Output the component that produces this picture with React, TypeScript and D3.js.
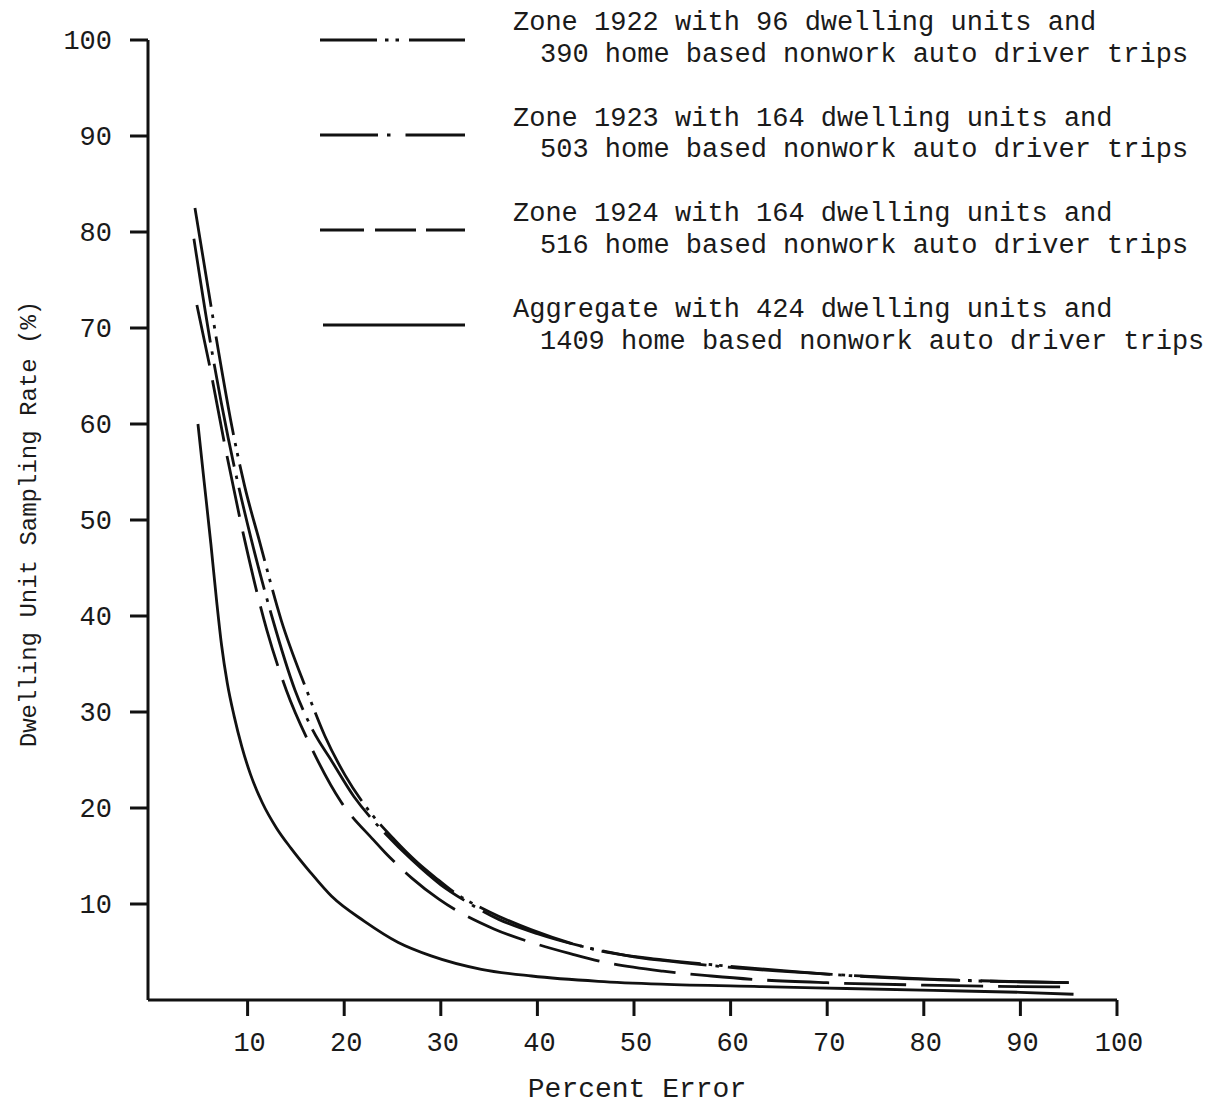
import React from 'react';
import * as d3 from 'd3';

// Sampling rate curves: percent error (x) vs dwelling unit sampling rate % (y)
const zone1922Err = [4.55, 5.9, 7.0, 8.4, 9.7, 11.2, 13.5, 16.1, 18.0, 20.1, 22.5, 25.2, 27.5, 29.5, 31.4, 35.0, 39.4, 43.5, 47.6, 52.8, 60.0, 67.3, 76.5, 85.0, 95.0];
const zone1922Rate = [82.5, 74.2, 67.5, 59.6, 53.5, 47.9, 39.5, 32.3, 27.5, 23.4, 19.8, 16.7, 14.4, 12.7, 11.2, 9.2, 7.3, 5.9, 4.9, 4.2, 3.5, 2.9, 2.3, 2.0, 1.8];

const zone1923Err = [4.44, 6.2, 8.0, 10.4, 12.5, 14.9, 16.8, 18.7, 21.0, 23.0, 24.2, 27.0, 30.0, 32.4, 36.0, 40.0, 45.0, 50.0, 55.0, 60.0, 70.0, 80.0, 90.0, 95.0];
const zone1923Rate = [79.3, 68.2, 58.5, 47.9, 40.0, 32.3, 28.0, 24.9, 21.2, 18.7, 17.4, 14.6, 12.0, 10.4, 8.4, 6.9, 5.5, 4.5, 3.9, 3.4, 2.7, 2.2, 1.9, 1.8];

const zone1924Err = [4.75, 6.0, 7.8, 9.7, 12.0, 14.0, 16.5, 19.7, 23.0, 24.2, 27.0, 29.8, 35.5, 40.0, 43.5, 46.6, 53.0, 58.0, 63.1, 70.0, 80.0, 90.0, 95.5];
const zone1924Rate = [72.4, 66.4, 57.0, 47.9, 38.5, 32.3, 26.5, 20.6, 16.7, 15.4, 12.7, 10.5, 7.4, 5.8, 4.8, 4.0, 3.0, 2.5, 2.1, 1.8, 1.55, 1.4, 1.35];

const aggregateErr = [4.86, 5.5, 6.2, 6.8, 7.3, 7.9, 8.6, 9.4, 10.3, 11.5, 13.0, 14.5, 16.5, 18.7, 22.1, 25.6, 29.0, 34.2, 39.4, 46.3, 52.8, 63.0, 72.0, 81.0, 90.0, 95.5];
const aggregateRate = [60.0, 54.0, 47.5, 41.5, 37.0, 33.0, 29.6, 26.4, 23.5, 20.6, 17.9, 15.8, 13.3, 10.8, 8.2, 6.0, 4.6, 3.2, 2.5, 1.95, 1.65, 1.4, 1.2, 1.0, 0.8, 0.6];

const xTicks = [10, 20, 30, 40, 50, 60, 70, 80, 90, 100];
const yTicks = [10, 20, 30, 40, 50, 60, 70, 80, 90, 100];

const legendFirstLines = [
  'Zone 1922 with 96 dwelling units and',
  'Zone 1923 with 164 dwelling units and',
  'Zone 1924 with 164 dwelling units and',
  'Aggregate with 424 dwelling units and',
];
const legendSecondLines = [
  '390 home based nonwork auto driver trips',
  '503 home based nonwork auto driver trips',
  '516 home based nonwork auto driver trips',
  '1409 home based nonwork auto driver trips',
];

const xTitle = 'Percent Error';
const yTitle = 'Dwelling Unit Sampling Rate (%)';

const series = [
  { err: zone1922Err, rate: zone1922Rate },
  { err: zone1923Err, rate: zone1923Rate },
  { err: zone1924Err, rate: zone1924Rate },
  { err: aggregateErr, rate: aggregateRate },
];

// line styles per series (curve dashes, legend sample dashes)
const curveDash = ['100 8 3.5 7 3.5 8', '105 9 3.5 9', '62 15', undefined];
const legendDash = ['57 8 3.5 7 3.5 10 60', '58 9 3.5 15 60', '44 11 41 10 40', undefined];

const FONT = "'Liberation Mono', 'DejaVu Sans Mono', monospace";

export default function App() {
  const W = 1225;
  const H = 1106;
  const x = d3.scaleLinear().domain([0, 100]).range([151, 1117]);
  const y = d3.scaleLinear().domain([0, 100]).range([1000, 40]);
  const axisX = 148;

  const line = d3
    .line<[number, number]>()
    .x((d) => x(d[0]))
    .y((d) => y(d[1]))
    .curve(d3.curveMonotoneX);

  const textStyle = {
    fontFamily: FONT,
    fontSize: 27,
    fill: '#1a1a1a',
  } as React.CSSProperties;

  return (
    <svg
      width={W}
      height={H}
      viewBox={`0 0 ${W} ${H}`}
      style={{ position: 'absolute', left: 0, top: 0, background: '#fff' }}
    >
      <rect width={W} height={H} fill="#fff" />

      {/* axes */}
      <g stroke="#111" strokeWidth={3} fill="none">
        <line x1={axisX} y1={y(0)} x2={axisX} y2={y(100)} />
        <line x1={axisX} y1={y(0)} x2={x(100)} y2={y(0)} />
        {yTicks.map((t) => (
          <line key={'yt' + t} x1={axisX - 18} y1={y(t)} x2={axisX} y2={y(t)} />
        ))}
        {xTicks.map((t) => (
          <line key={'xt' + t} x1={x(t)} y1={y(0)} x2={x(t)} y2={y(0) + 16} />
        ))}
      </g>

      {/* tick labels */}
      {yTicks.map((t) => (
        <text key={'yl' + t} x={112} y={y(t) + 9} textAnchor="end" style={textStyle}>
          {String(t)}
        </text>
      ))}
      {xTicks.map((t) => (
        <text key={'xl' + t} x={x(t) + 2} y={1051} textAnchor="middle" style={textStyle}>
          {String(t)}
        </text>
      ))}

      {/* axis titles */}
      <text x={637} y={1097} textAnchor="middle" style={{ ...textStyle, fontSize: 28 }}>
        {xTitle}
      </text>
      <text
        transform="translate(36,524) rotate(-90)"
        textAnchor="middle"
        style={{ ...textStyle, fontSize: 24 }}
      >
        {yTitle}
      </text>

      {/* curves */}
      <g fill="none" stroke="#111" strokeWidth={2.8} strokeLinecap="butt">
        {series.map((s, i) => (
          <path
            key={'c' + i}
            d={line(s.err.map((e, j) => [e, s.rate[j]] as [number, number])) || ''}
            strokeDasharray={curveDash[i]}
          />
        ))}
      </g>

      {/* legend */}
      {legendFirstLines.map((t, i) => {
        const cy = 40 + i * 95;
        const b1 = 30 + i * 95.7;
        const b2 = b1 + 31.5;
        return (
          <g key={'lg' + i}>
            <line
              x1={i === 3 ? 323 : 320}
              x2={465}
              y1={cy}
              y2={cy}
              stroke="#111"
              strokeWidth={3}
              strokeDasharray={legendDash[i]}
            />
            <text x={513} y={b1} style={textStyle}>
              {t}
            </text>
            <text x={540} y={b2} style={textStyle}>
              {legendSecondLines[i]}
            </text>
          </g>
        );
      })}
    </svg>
  );
}
